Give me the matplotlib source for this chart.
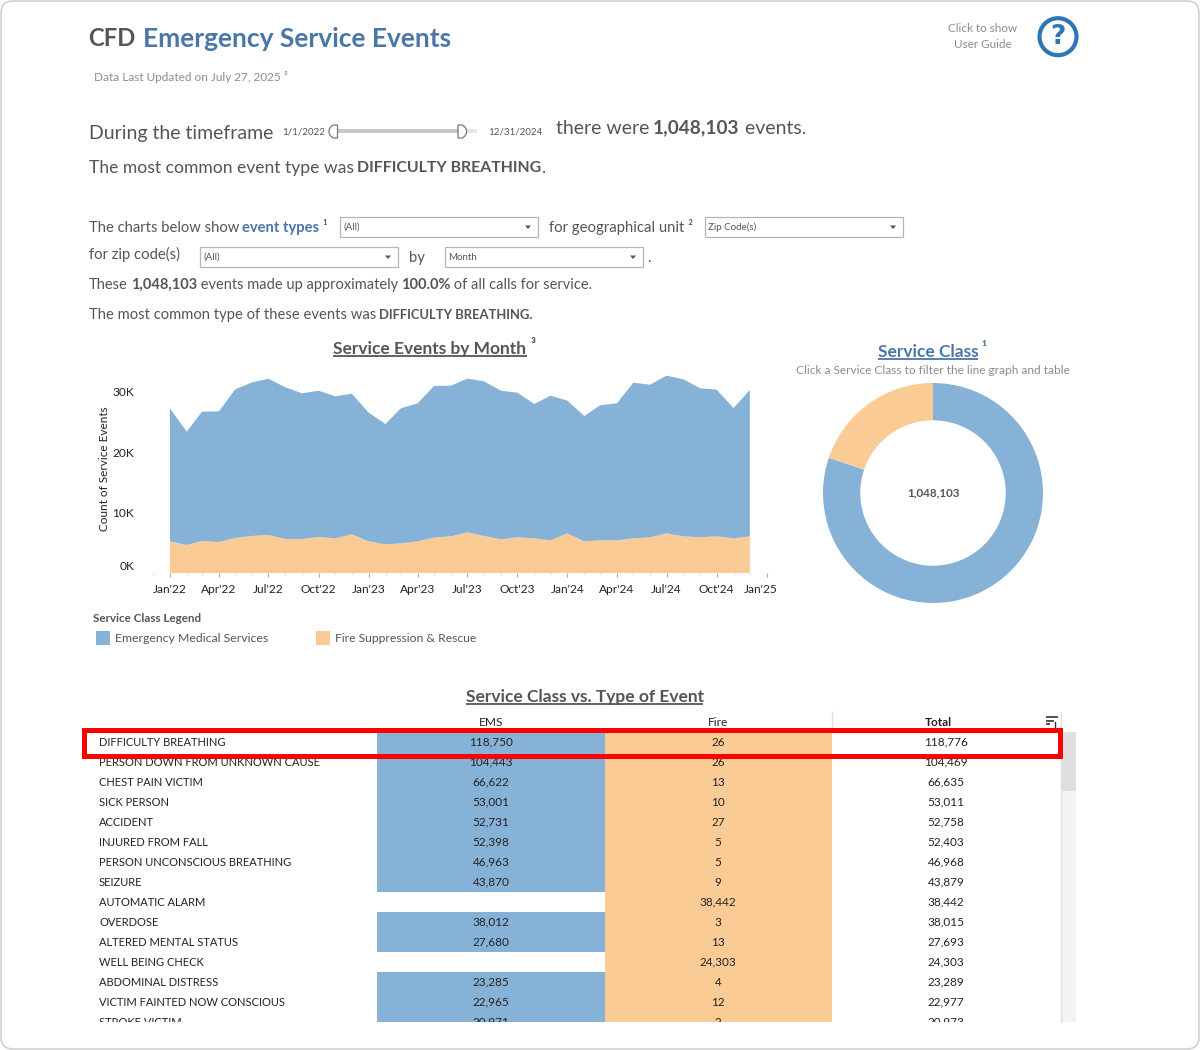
import matplotlib
matplotlib.use("Agg")
import matplotlib.pyplot as plt
import matplotlib.dates as mdates
from matplotlib.patches import Rectangle, Circle, FancyBboxPatch, PathPatch, Polygon
from matplotlib.path import Path
from matplotlib.transforms import ScaledTranslation
import pandas as pd

plt.rcParams["font.family"] = ["Lato", "DejaVu Sans"]

W, H = 1200, 1050

BLUE = "#87B2D7"
ORANGE = "#FBCB95"
TITLE_BLUE = "#4A76A8"
GREY_TEXT = "#555555"
LIGHT_TEXT = "#8C8C8C"
DARK_TEXT = "#222222"

# monthly counts, Jan'22 - Dec'24
fire_events = [5235, 4630, 5290, 5120, 5790, 6120, 6280, 5620, 5620, 5950, 5730, 6390,
               5235, 4740, 4900, 5235, 5840, 6060, 6720, 6120, 5565, 5900, 5730, 5400,
               6560, 5235, 5400, 5400, 5730, 5900, 6560, 6060, 5900, 6060, 5730, 6060]
ems_events = [21985, 18730, 21380, 21600, 24570, 25400, 25840, 25070, 24080, 24190, 23470, 23250,
              21265, 19890, 22320, 22815, 25070, 24910, 25400, 25560, 24575, 23910, 22210, 23910,
              21930, 20715, 22320, 22650, 25730, 25230, 26060, 25950, 24630, 24250, 21540, 24190]
y_ticks = [0, 10000, 20000, 30000]
y_tick_labels = ["0K", "10K", "20K", "30K"]

# donut
class_totals = [840503, 207600]

# table
event_types = ["DIFFICULTY BREATHING", "PERSON DOWN FROM UNKNOWN CAUSE", "CHEST PAIN VICTIM",
               "SICK PERSON", "ACCIDENT", "INJURED FROM FALL", "PERSON UNCONSCIOUS BREATHING",
               "SEIZURE", "AUTOMATIC ALARM", "OVERDOSE", "ALTERED MENTAL STATUS",
               "WELL BEING CHECK", "ABDOMINAL DISTRESS", "VICTIM FAINTED NOW CONSCIOUS",
               "STROKE VICTIM"]
ems_counts = [118750, 104443, 66622, 53001, 52731, 52398, 46963, 43870, None, 38012, 27680,
              None, 23285, 22965, 20971]
fire_counts = [26, 26, 13, 10, 27, 5, 5, 9, 38442, 3, 13, 24303, 4, 12, 2]
total_counts = [118776, 104469, 66635, 53011, 52758, 52403, 46968, 43879, 38442, 38015, 27693,
                24303, 23289, 22977, 20973]


def px_axes(fig, x, y, w, h, **kw):
    # axes placed with pixel coords measured from the top left
    return fig.add_axes([x / W, 1 - (y + h) / H, w / W, h / H], **kw)


fig = plt.figure(figsize=(12, 10.5), dpi=100, facecolor="white")
renderer = fig.canvas.get_renderer()

# ---- area chart
ax = px_axes(fig, 153, 370, 617, 203)
months = pd.date_range("2022-01-01", periods=36, freq="MS")
ax.stackplot(months, fire_events, ems_events, colors=[ORANGE, BLUE], linewidth=0)
ax.set_ylim(0, 33554)
ax.set_xlim(mdates.date2num(pd.Timestamp("2021-12-01")), mdates.date2num(pd.Timestamp("2025-01-07")))
ax.set_yticks(y_ticks)
ax.set_yticklabels(y_tick_labels, fontsize=8.6, color=DARK_TEXT)
ax.tick_params(axis="y", length=0, pad=13.5)
zero_label = ax.get_yticklabels()[0]
zero_label.set_va("bottom")
zero_label.set_transform(zero_label.get_transform() + ScaledTranslation(0, 1 / 72, fig.dpi_scale_trans))
ax.xaxis.set_major_locator(mdates.MonthLocator(bymonth=[1, 4, 7, 10]))
ax.xaxis.set_minor_locator(mdates.MonthLocator())
ax.xaxis.set_major_formatter(mdates.DateFormatter("%b'%y"))
ax.tick_params(axis="x", which="major", length=3, color="#AAAAAA", labelsize=8.6,
               labelcolor=DARK_TEXT, pad=5)
ax.tick_params(axis="x", which="minor", length=1, color="#AAAAAA")
# last label sits left of its tick
fig.canvas.draw()
last_label = ax.get_xticklabels()[-1]
last_label.set_transform(last_label.get_transform() + ScaledTranslation(-6 / 100, 0, fig.dpi_scale_trans))
for s in ax.spines.values():
    s.set_visible(False)
ax.set_facecolor("none")

# ---- donut
ax_d = px_axes(fig, 823, 383, 220, 220)
ax_d.pie(class_totals, colors=[BLUE, ORANGE], startangle=90, counterclock=False, radius=1,
         wedgeprops=dict(width=0.339, linewidth=0))
ax_d.set_xlim(-1, 1)
ax_d.set_ylim(-1, 1)

# ---- table
ax_t = px_axes(fig, 0, 732, W, 290)
ax_t.set_xlim(0, W)
ax_t.set_ylim(14, -0.5)
ax_t.axis("off")
rows = list(range(len(event_types)))
ems_rows = [r for r in rows if ems_counts[r] is not None]
ax_t.barh(ems_rows, [228] * len(ems_rows), left=377, height=1.0, color=BLUE, linewidth=0)
ax_t.barh(rows, [227] * len(rows), left=605, height=1.0, color=ORANGE, linewidth=0)
for r in rows:
    ax_t.text(99, r, event_types[r], fontsize=8.0, color=DARK_TEXT, va="center", clip_on=True)
    if ems_counts[r] is not None:
        ax_t.text(491, r, f"{ems_counts[r]:,}", fontsize=8.5, color=DARK_TEXT, ha="center", va="center", clip_on=True)
    ax_t.text(718, r, f"{fire_counts[r]:,}", fontsize=8.5, color=DARK_TEXT, ha="center", va="center", clip_on=True)
    ax_t.text(946, r, f"{total_counts[r]:,}", fontsize=8.5, color=DARK_TEXT, ha="center", va="center", clip_on=True)

# ---- page layer, everything else goes here in pixel coords
page = px_axes(fig, 0, 0, W, H, zorder=10)
page.set_xlim(0, W)
page.set_ylim(H, 0)
page.axis("off")
page.patch.set_visible(False)

page.add_patch(FancyBboxPatch((1, 1), W - 2, H - 2, boxstyle="round,pad=0,rounding_size=12",
                              fc="none", ec="#D2D2D2", lw=1.2))


def seq(x, y, parts, size, color=GREY_TEXT, bold_size=None):
    # a run of text pieces; a piece is a string, or (string, bold) or (string, bold, color)
    for part in parts:
        if isinstance(part, str):
            part = (part, False)
        c = part[2] if len(part) > 2 else color
        fs = bold_size if (part[1] and bold_size) else size
        t = page.text(x, y + 1, part[0], fontsize=fs, color=c, va="center",
                      fontweight="bold" if part[1] else "normal")
        # trailing spaces are not measured, so add them by hand
        stripped = part[0].rstrip(" ")
        t.set_text(stripped)
        x += t.get_window_extent(renderer).width
        x += (len(part[0]) - len(stripped)) * fs * 0.27
    return x


def underline(x0, x1, y, color, lw=1.3):
    page.plot([x0, x1], [y, y], color=color, lw=lw, solid_capstyle="butt")


def dropdown(x, y, label):
    page.add_patch(Rectangle((x, y), 198, 20, fc="white", ec="#B5B5B5", lw=0.9))
    page.text(x + 3.5, y + 10, label, fontsize=7, color=GREY_TEXT, va="center")
    page.add_patch(Polygon([[x + 185, y + 8.5], [x + 191, y + 8.5], [x + 188, y + 12]], fc="#555555", ec="none"))


# header
seq(88.5, 38, [("CFD", True)], 17.2)
seq(143, 38, [("Emergency Service Events", True, TITLE_BLUE)], 19.0)
seq(93.5, 76, ["Data Last Updated on July 27, 2025 ³"], 8.5, LIGHT_TEXT)
page.text(982.5, 29, "Click to show", fontsize=8.4, color=LIGHT_TEXT, ha="center", va="center")
page.text(982.5, 45, "User Guide", fontsize=8.4, color=LIGHT_TEXT, ha="center", va="center")
page.add_patch(Circle((1058, 36.7), 18.5, fc="none", ec="#2E75B6", lw=3))
page.text(1058, 37, "?", fontsize=19, fontweight="bold", family="DejaVu Sans", color="#2E75B6",
          ha="center", va="center")

# timeframe line and slider
seq(89, 133, ["During the timeframe"], 14)
page.text(282.5, 132, "1/1/2022", fontsize=7, color=GREY_TEXT, va="center")
page.text(488, 132, "12/31/2024", fontsize=7, color=GREY_TEXT, va="center")
page.add_patch(Rectangle((337, 129), 140, 4, fc="#E6E6E6", ec="none"))
page.add_patch(Rectangle((337, 129), 121, 4, fc="#C8C8C8", ec="none"))
for hx, d in [(337.5, -1), (458, 1)]:
    verts = [(hx, 125), (hx + d * 4, 125), (hx + d * 8.5, 127), (hx + d * 8.5, 131.5),
             (hx + d * 8.5, 136), (hx + d * 4, 138), (hx, 138), (hx, 125)]
    codes = [Path.MOVETO, Path.LINETO, Path.CURVE3, Path.CURVE3, Path.CURVE3, Path.CURVE3, Path.LINETO, Path.CLOSEPOLY]
    page.add_patch(PathPatch(Path(verts, codes), fc="white", ec="#777777", lw=0.9))
seq(556, 127, ["there were ", ("1,048,103", True), " events."], 14, bold_size=13.7)
seq(89, 167, ["The most common event type was ", ("DIFFICULTY BREATHING", True), "."], 12.6, bold_size=11.4)

# filters
seq(89, 227, ["The charts below show ", ("event types", True, TITLE_BLUE), " ¹"], 10.6)
dropdown(340, 217, "(All)")
seq(549, 226, ["for geographical unit ²"], 10.7)
dropdown(705, 217, "Zip Code(s)")
seq(89, 253, ["for zip code(s)"], 10.7)
dropdown(200, 247, "(All)")
seq(409, 257, ["by"], 10.7)
dropdown(445, 247, "Month")
seq(647, 257, ["."], 10.7)
seq(89, 284, ["These ", ("1,048,103", True), " events made up approximately ", ("100.0%", True),
              " of all calls for service."], 10.55)
seq(89, 314, ["The most common type of these events was ", ("DIFFICULTY BREATHING.", True)], 10.65, bold_size=9.4)

# chart titles
seq(333, 348, [("Service Events by Month", True)], 12.5)
seq(531, 345, [("³", True)], 11)
underline(333, 527, 356, GREY_TEXT)
seq(878, 351, [("Service Class", True, TITLE_BLUE)], 12.5, TITLE_BLUE)
seq(981.5, 348, [("¹", True)], 11, TITLE_BLUE)
underline(878, 978, 359, TITLE_BLUE)
seq(796, 370, ["Click a Service Class to filter the line graph and table"], 8.6, LIGHT_TEXT)
page.text(105, 469, "Count of Service Events", fontsize=8.5, color=DARK_TEXT, rotation=90, ha="center", va="center")
page.text(933, 493, "1,048,103", fontsize=8.4, fontweight="bold", color=GREY_TEXT, ha="center", va="center")

# legend
seq(93, 618, [("Service Class Legend", True)], 8.4)
page.add_patch(Rectangle((96, 631), 14, 14, fc=BLUE, ec="none"))
seq(115, 638, ["Emergency Medical Services"], 8.8)
page.add_patch(Rectangle((316, 631), 14, 14, fc=ORANGE, ec="none"))
seq(335, 638, ["Fire Suppression & Rescue"], 8.7)

# table furniture
seq(466, 696, [("Service Class vs. Type of Event", True)], 12.5)
underline(466, 703, 704, GREY_TEXT)
page.text(491, 722, "EMS", fontsize=8.6, color=DARK_TEXT, ha="center", va="center")
page.text(718, 722, "Fire", fontsize=8.6, color=DARK_TEXT, ha="center", va="center")
page.text(938, 722, "Total", fontsize=8.6, fontweight="bold", color=DARK_TEXT, ha="center", va="center")
page.plot([832, 832], [712, 732], color="#DDDDDD", lw=1)
page.plot([1060.5, 1060.5], [712, 1022], color="#DDDDDD", lw=1)
page.add_patch(Rectangle((1061, 732), 15, 290, fc="#F3F3F3", ec="none"))
page.add_patch(Rectangle((1061, 732), 15, 59, fc="#DFDFDF", ec="none"))
for ly, lx in [(717, 12), (720.5, 8), (724, 4)]:
    page.plot([1046, 1046 + lx], [ly, ly], color="#333333", lw=1.2, solid_capstyle="butt")
page.plot([1055, 1055], [722, 727], color="#333333", lw=1)
page.add_patch(Rectangle((83.5, 729.8), 976, 26.5, fc="none", ec="#FF0000", lw=3.6, zorder=5))

fig.savefig("out.png", dpi=100)
